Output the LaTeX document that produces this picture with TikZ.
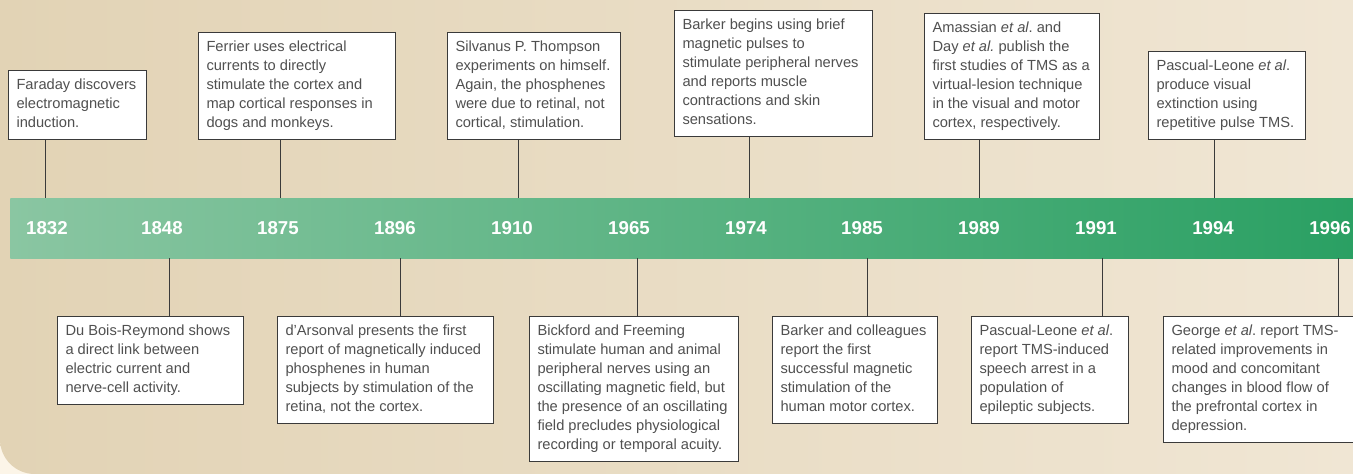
\documentclass[tikz,border=0pt]{standalone}
\usepackage{fontspec}
\setmainfont{Liberation Sans}
\usepackage{tikz}
\frenchspacing

\definecolor{bgleft}{HTML}{E2D3B5}
\definecolor{bgright}{HTML}{F0E6D4}
\definecolor{bgout}{HTML}{FCF5E8}
\definecolor{bandleft}{HTML}{8AC6A2}
\definecolor{bandright}{HTML}{2AA063}
\definecolor{evtext}{HTML}{505050}
\definecolor{evline}{HTML}{3A3A3A}

% fixed-width block of hand-broken lines
\newcommand{\evlines}[2]{\makebox[#1][l]{\begin{tabular}{@{}l@{}}#2\end{tabular}}}

\begin{document}
\begin{tikzpicture}[x=0.75pt,y=0.75pt,yscale=-1,xscale=1,
  evbox/.style={draw=evline,line width=0.75pt,fill=white,
    inner xsep=6pt,inner ysep=4.5pt,text=evtext,
    font=\fontsize{11}{14.25}\selectfont},
  yearlbl/.style={text=white,font=\fontsize{14}{16}\selectfont\bfseries,inner sep=0pt},
  stem/.style={draw=evline,line width=0.75pt}]
\useasboundingbox (0,0) rectangle (1353,474);

%Shape: Background
\fill[bgout] (0,0) rectangle (1353,474);
\shade[left color=bgleft,right color=bgright] (0,0) -- (1353,0) -- (1353,474) [rounded corners=26pt] -- (0,474) [sharp corners] -- cycle;

%Shape: Time band
\node[shade,left color=bandleft,right color=bandright,draw=none,inner sep=0pt,
  minimum width=1007.25pt,minimum height=45pt,anchor=north west] (band) at (10,198) {};

% Year labels
\node[yearlbl] (y1832) at (47,228) {1832};
\node[yearlbl] (y1848) at (162,228) {1848};
\node[yearlbl] (y1875) at (278,228) {1875};
\node[yearlbl] (y1896) at (395,228) {1896};
\node[yearlbl] (y1910) at (512,228) {1910};
\node[yearlbl] (y1965) at (629,228) {1965};
\node[yearlbl] (y1974) at (746,228) {1974};
\node[yearlbl] (y1985) at (862,228) {1985};
\node[yearlbl] (y1989) at (979,228) {1989};
\node[yearlbl] (y1991) at (1096,228) {1991};
\node[yearlbl] (y1994) at (1213,228) {1994};
\node[yearlbl] (y1996) at (1330,228) {1996};

% Stem ends on the band
\coordinate (s1832) at (45,198);
\coordinate (s1875) at (280,198);
\coordinate (s1910) at (518,198);
\coordinate (s1974) at (749,198);
\coordinate (s1989) at (979,198);
\coordinate (s1994) at (1214,198);
\coordinate (s1848) at (169,258);
\coordinate (s1896) at (400,258);
\coordinate (s1965) at (637,258);
\coordinate (s1985) at (867,258);
\coordinate (s1991) at (1102,258);
\coordinate (s1996) at (1338,258);

% Text Node (above the band)
\node[evbox,anchor=south west] (ev1832) at (8,140)
  {\evlines{91.5pt}{Faraday discovers\\electromagnetic\\induction.}};
\node[evbox,anchor=south west] (ev1875) at (198,140)
  {\evlines{135.75pt}{Ferrier uses electrical\\currents to directly\\stimulate the cortex and\\map cortical responses in\\dogs and monkeys.}};
\node[evbox,anchor=south west] (ev1910) at (447,140)
  {\evlines{117.75pt}{Silvanus P. Thompson\\experiments on himself.\\Again, the phosphenes\\were due to retinal, not\\cortical, stimulation.}};
\node[evbox,anchor=south west] (ev1974) at (674,137)
  {\evlines{136.5pt}{Barker begins using brief\\magnetic pulses to\\stimulate peripheral nerves\\and reports muscle\\contractions and skin\\sensations.}};
\node[evbox,anchor=south west] (ev1989) at (924,140)
  {\evlines{119.25pt}{Amassian \textit{et al}. and\\Day \textit{et al.} publish the\\first studies of TMS as a\\virtual-lesion technique\\in the visual and motor\\cortex, respectively.}};
\node[evbox,anchor=south west] (ev1994) at (1148,140)
  {\evlines{105.75pt}{Pascual-Leone \textit{et al}.\\produce visual\\extinction using\\repetitive pulse TMS.}};

% Text Node (below the band)
\node[evbox,anchor=north west] (ev1848) at (57,316)
  {\evlines{127.5pt}{Du Bois-Reymond shows\\a direct link between\\electric current and\\nerve-cell activity.}};
\node[evbox,anchor=north west] (ev1896) at (277,316)
  {\evlines{150pt}{d’Arsonval presents the first\\report of magnetically induced\\phosphenes in human\\subjects by stimulation of the\\retina, not the cortex.}};
\node[evbox,anchor=north west] (ev1965) at (529,316)
  {\evlines{144.75pt}{Bickford and Freeming\\stimulate human and animal\\peripheral nerves using an\\oscillating magnetic field, but\\the presence of an oscillating\\field precludes physiological\\recording or temporal acuity.}};
\node[evbox,anchor=north west] (ev1985) at (772,316)
  {\evlines{111.75pt}{Barker and colleagues\\report the first\\successful magnetic\\stimulation of the\\human motor cortex.}};
\node[evbox,anchor=north west] (ev1991) at (971,316)
  {\evlines{105.75pt}{Pascual-Leone \textit{et al}.\\report TMS-induced\\speech arrest in a\\population of\\epileptic subjects.}};
\node[evbox,anchor=north west] (ev1996) at (1163,316)
  {\evlines{130.5pt}{George \textit{et al}. report TMS-\\related improvements in\\mood and concomitant\\changes in blood flow of\\the prefrontal cortex in\\depression.}};

%Straight Lines: stems
\draw[stem] (ev1832.south -| s1832) -- (s1832);
\draw[stem] (ev1875.south -| s1875) -- (s1875);
\draw[stem] (ev1910.south -| s1910) -- (s1910);
\draw[stem] (ev1974.south -| s1974) -- (s1974);
\draw[stem] (ev1989.south -| s1989) -- (s1989);
\draw[stem] (ev1994.south -| s1994) -- (s1994);
\draw[stem] (s1848) -- (ev1848.north -| s1848);
\draw[stem] (s1896) -- (ev1896.north -| s1896);
\draw[stem] (s1965) -- (ev1965.north -| s1965);
\draw[stem] (s1985) -- (ev1985.north -| s1985);
\draw[stem] (s1991) -- (ev1991.north -| s1991);
\draw[stem] (s1996) -- (ev1996.north -| s1996);

\end{tikzpicture}
\end{document}
